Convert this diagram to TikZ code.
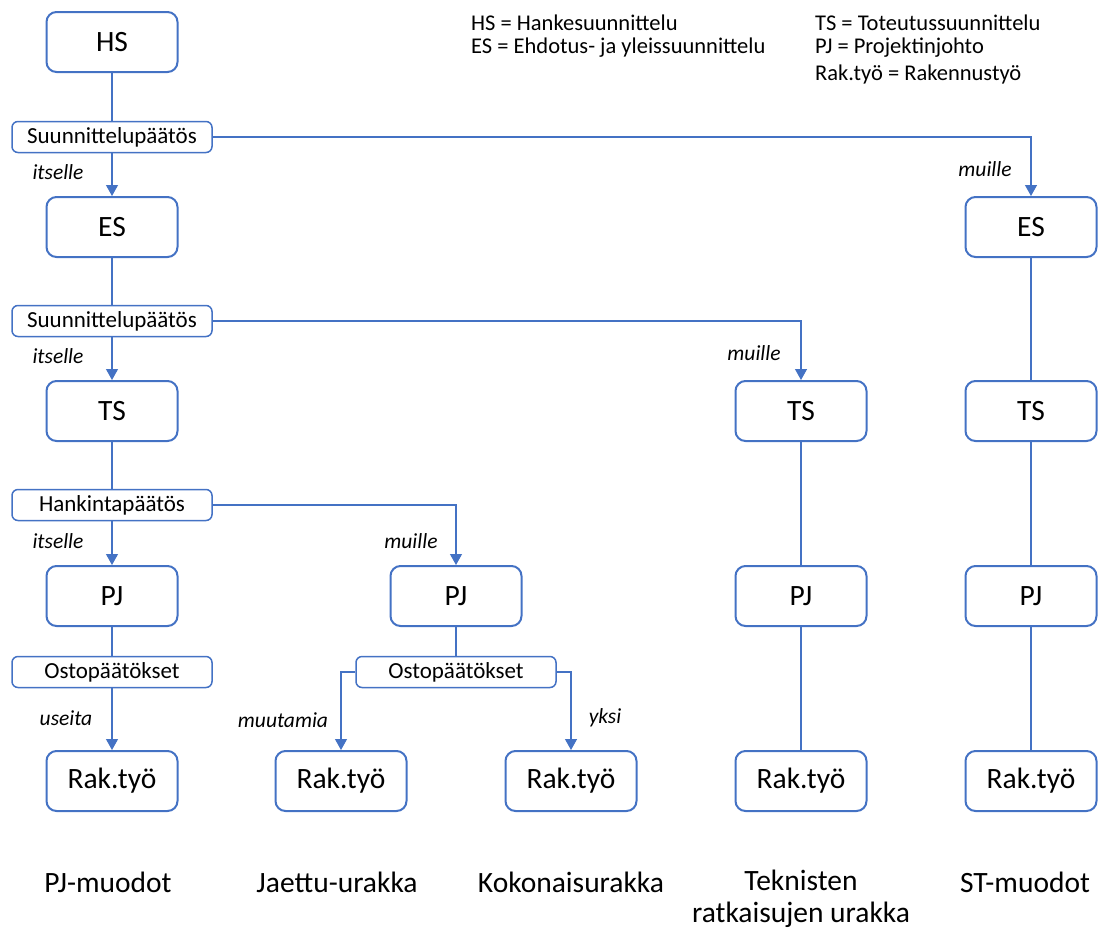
\documentclass[tikz,border=0pt]{standalone}
\usepackage{fontspec}
\setmainfont{Carlito}
\usetikzlibrary{arrows.meta}
\definecolor{ofblue}{HTML}{4472C4}
\tikzset{
  stage/.style={draw=ofblue, line width=2pt, rounded corners=10pt,
    minimum width=131pt, minimum height=60pt, inner sep=0pt,
    font=\fontsize{29.5}{34}\selectfont},
  decision/.style={draw=ofblue, line width=1.5pt, rounded corners=6pt,
    minimum width=200pt, minimum height=31pt, inner sep=0pt,
    font=\fontsize{23}{27}\selectfont},
  link/.style={draw=ofblue, line width=1.2pt},
  flow/.style={link, -{Triangle[width=12pt,length=11pt]}},
  choice/.style={inner sep=0pt, font=\itshape\fontsize{21.5}{25}\selectfont},
  legend/.style={anchor=west, inner sep=0pt, font=\fontsize{22.5}{26}\selectfont},
  model/.style={inner sep=0pt, align=center, font=\fontsize{29.5}{32}\selectfont}
}
\begin{document}
\begin{tikzpicture}[x=1pt, y=-1pt]
\useasboundingbox (0,0) rectangle (1100,930);

% legend
\node[legend] (lhs) at (471,23) {HS = Hankesuunnittelu};
\node[legend] (les) at (471,48) {ES = Ehdotus- ja yleissuunnittelu};
\node[legend] (lts) at (815,23) {TS = Toteutussuunnittelu};
\node[legend] (lpj) at (815,48) {PJ = Projektinjohto};
\node[legend] (lrk) at (815,74) {Rak.työ = Rakennustyö};

% main column
\node[stage] (hs) at (112,42) {HS};
\node[decision] (sp1) at (112,137) {Suunnittelupäätös};
\node[stage] (es1) at (112,227) {ES};
\node[decision] (sp2) at (112,321) {Suunnittelupäätös};
\node[stage] (ts1) at (112,411) {TS};
\node[decision] (hp) at (112,505) {Hankintapäätös};
\node[stage] (pj1) at (112,596) {PJ};
\node[decision] (op1) at (112,672) {Ostopäätökset};
\node[stage] (rk1) at (112,781) {Rak.työ};

% shared contract branch
\node[stage] (pj2) at (456,596) {PJ};
\node[decision] (op2) at (456,672) {Ostopäätökset};
\node[stage] (rk2) at (341,781) {Rak.työ};
\node[stage] (rk3) at (571,781) {Rak.työ};

% technical solutions branch
\node[stage] (ts3) at (801,411) {TS};
\node[stage] (pj3) at (801,596) {PJ};
\node[stage] (rk4) at (801,781) {Rak.työ};

% ST branch
\node[stage] (es4) at (1031,227) {ES};
\node[stage] (ts4) at (1031,411) {TS};
\node[stage] (pj4) at (1031,596) {PJ};
\node[stage] (rk5) at (1031,781) {Rak.työ};

% connectors
\draw[link] (hs) -- (sp1);
\draw[flow] (sp1) -- (es1);
\draw[flow] (sp1.east) -| (es4.north);
\draw[link] (es1) -- (sp2);
\draw[flow] (sp2) -- (ts1);
\draw[flow] (sp2.east) -| (ts3.north);
\draw[link] (ts1) -- (hp);
\draw[flow] (hp) -- (pj1);
\draw[flow] (hp.east) -| (pj2.north);
\draw[link] (pj1) -- (op1);
\draw[flow] (op1) -- (rk1);
\draw[link] (pj2) -- (op2);
\draw[flow] (op2.west) -| (rk2.north);
\draw[flow] (op2.east) -| (rk3.north);
\draw[link] (ts3) -- (pj3) -- (rk4);
\draw[link] (es4) -- (ts4) -- (pj4) -- (rk5);

% branch labels
\node[choice] (c1) at (58,172) {itselle};
\node[choice] (c2) at (58,356) {itselle};
\node[choice] (c3) at (58,541) {itselle};
\node[choice] (c4) at (985,169) {muille};
\node[choice] (c5) at (754,353) {muille};
\node[choice] (c6) at (411,541) {muille};
\node[choice] (c7) at (66,718) {useita};
\node[choice] (c8) at (283,720) {muutamia};
\node[choice] (c9) at (605,718) {yksi};

% contract forms
\node[model] (m1) at (108,882) {PJ-muodot};
\node[model] (m2) at (337,882) {Jaettu-urakka};
\node[model] (m3) at (571,882) {Kokonaisurakka};
\node[model] (m4) at (801,899) {Teknisten\\ratkaisujen urakka};
\node[model] (m5) at (1025,882) {ST-muodot};
\end{tikzpicture}
\end{document}
